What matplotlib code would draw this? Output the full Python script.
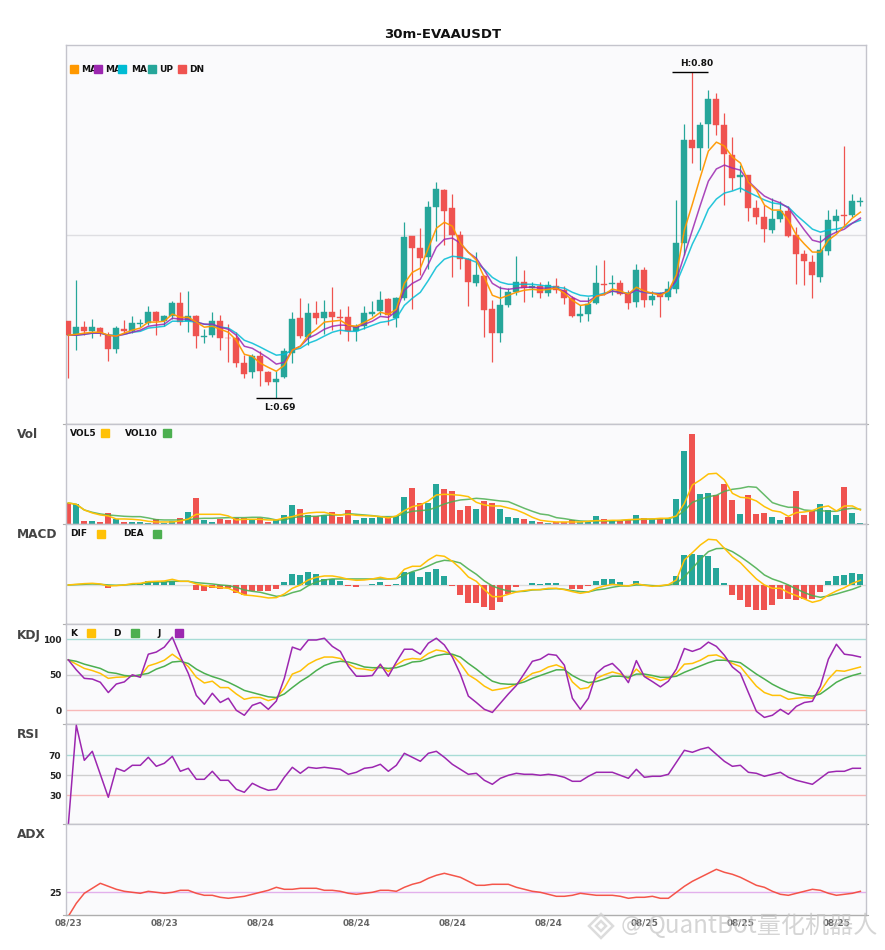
import numpy as np
import matplotlib
matplotlib.use('Agg')
import matplotlib.pyplot as plt
from matplotlib.patches import Polygon

UP = '#26a69a'
DN = '#ef5350'
W, H = 885, 950

# velas, en unidades de 0.0001
opens = [7159,7112,7139,7125,7136,7112,7065,7132,7125,7150,7152,7189,7159,7176,7220,7159,7176,7106,7112,7159,
         7103,7102,7018,6988,7041,6988,6954,6971,7052,7169,7105,7186,7169,7189,7172,7172,7125,7142,7182,7192,
         7233,7169,7236,7444,7404,7374,7542,7599,7538,7448,7367,7286,7310,7199,7118,7212,7256,7290,7272,7276,
         7253,7276,7263,7236,7175,7182,7219,7283,7283,7287,7253,7223,7330,7230,7250,7240,7267,7421,7767,7740,
         7821,7905,7818,7717,7644,7650,7539,7508,7465,7502,7529,7448,7384,7357,7307,7394,7495,7515,7515,7559]
highs = [7159,7297,7159,7166,7139,7122,7142,7162,7176,7166,7209,7193,7179,7226,7256,7260,7179,7132,7189,7179,
         7149,7122,7045,7048,7058,6991,6991,7068,7189,7236,7220,7226,7230,7273,7199,7209,7149,7209,7226,7259,
         7236,7240,7491,7444,7471,7562,7626,7602,7585,7461,7370,7390,7313,7229,7276,7270,7377,7330,7290,7290,
         7293,7303,7276,7243,7212,7239,7347,7364,7314,7297,7263,7351,7340,7260,7256,7293,7566,7821,7997,7828,
         7935,7925,7858,7777,7683,7650,7566,7549,7572,7562,7545,7475,7398,7381,7448,7532,7535,7747,7586,7576]
lows = [6969,7062,7112,7102,7109,7025,7052,7119,7119,7139,7146,7112,7142,7166,7146,7122,7068,7085,7105,7062,
        7021,7004,6968,6968,6941,6944,6900,6968,7018,7102,7078,7149,7115,7129,7115,7091,7091,7132,7175,7179,
        7145,7138,7229,7199,7313,7333,7427,7414,7306,7333,7209,7276,7105,7021,7088,7206,7246,7222,7239,7236,
        7243,7252,7216,7172,7155,7159,7216,7246,7246,7246,7199,7206,7206,7213,7172,7230,7253,7381,7690,7666,
        7740,7784,7549,7599,7592,7495,7485,7424,7455,7492,7441,7283,7280,7236,7290,7381,7458,7477,7508,7545]
closes = [7112,7139,7125,7139,7119,7065,7136,7125,7152,7152,7189,7159,7176,7220,7156,7176,7109,7109,7159,7102,
          7101,7018,6981,7041,6991,6954,6964,7058,7166,7109,7186,7169,7189,7172,7170,7125,7142,7186,7189,7229,
          7179,7236,7441,7404,7370,7542,7602,7528,7448,7367,7290,7313,7196,7118,7212,7256,7290,7270,7276,7253,
          7280,7265,7236,7175,7182,7216,7286,7280,7287,7250,7220,7330,7230,7243,7240,7267,7421,7767,7740,7818,
          7905,7818,7720,7640,7650,7539,7508,7468,7502,7529,7445,7384,7361,7314,7398,7498,7512,7512,7562,7562]

ma5 = [7112,7115,7119,7122,7122,7112,7109,7119,7129,7136,7156,7156,7159,7183,7172,7172,7156,7139,7142,7132,
       7122,7095,7048,7041,7018,7004,6991,7011,7062,7075,7112,7132,7156,7159,7162,7145,7142,7155,7169,7189,
       7182,7199,7286,7323,7337,7404,7471,7491,7478,7421,7390,7364,7306,7246,7236,7246,7256,7263,7266,7263,
       7266,7270,7253,7229,7212,7216,7243,7249,7267,7260,7250,7273,7260,7253,7246,7260,7314,7465,7552,7643,
       7730,7760,7747,7710,7690,7626,7599,7549,7532,7532,7498,7448,7418,7391,7391,7431,7451,7478,7505,7525]
ma10 = [7112,7112,7115,7119,7119,7112,7109,7115,7122,7129,7142,7146,7149,7169,7166,7166,7156,7149,7149,7139,
        7132,7112,7075,7068,7052,7035,7015,7021,7062,7075,7102,7115,7132,7142,7146,7145,7138,7149,7159,7175,
        7172,7192,7263,7286,7300,7350,7407,7434,7438,7421,7390,7370,7330,7286,7270,7266,7270,7273,7273,7270,
        7270,7270,7259,7239,7226,7226,7243,7249,7260,7256,7250,7263,7256,7253,7250,7260,7297,7381,7465,7549,
        7629,7670,7683,7673,7666,7629,7603,7579,7566,7556,7539,7502,7465,7431,7424,7445,7458,7468,7488,7505]
ma20 = [7112,7112,7115,7119,7119,7112,7112,7115,7122,7125,7136,7139,7142,7159,7159,7159,7156,7149,7146,7139,
        7136,7119,7095,7085,7072,7058,7045,7048,7062,7068,7085,7095,7109,7122,7129,7125,7125,7135,7145,7155,
        7159,7169,7212,7236,7256,7296,7340,7367,7377,7374,7367,7357,7333,7306,7290,7283,7283,7283,7283,7280,
        7276,7273,7270,7256,7246,7243,7246,7253,7260,7256,7253,7260,7256,7253,7253,7256,7287,7351,7418,7472,
        7535,7569,7589,7596,7606,7592,7579,7566,7556,7552,7542,7515,7492,7468,7458,7465,7468,7475,7488,7498]

volume = [64,61,10,10,7,34,16,7,7,7,4,16,4,10,19,37,79,13,7,16,
          13,19,19,16,19,7,16,28,58,46,28,25,28,37,22,43,13,19,19,25,
          19,25,82,109,64,64,121,106,100,43,55,46,70,64,46,22,19,16,10,7,
          4,7,7,13,7,7,25,16,10,10,13,28,19,16,16,16,76,220,271,91,
          94,88,121,73,31,88,31,34,22,13,22,100,28,43,61,43,28,112,34,4]
vol5 = [64,60,43,34,28,25,16,16,15,13,9,7,7,7,10,16,30,30,30,30,
        25,13,15,15,15,13,13,19,23,30,34,36,36,30,28,30,27,26,25,23,
        19,25,41,53,58,70,88,90,89,87,83,66,58,55,55,49,43,33,21,12,
        9,7,7,7,7,9,11,11,12,12,14,15,16,16,18,18,25,63,118,133,
        151,153,133,93,81,79,70,53,41,37,24,35,37,41,51,55,40,55,55,43]
vol10 = [64,60,43,36,31,28,26,24,23,23,19,14,13,13,13,14,17,18,18,19,
         20,20,20,21,21,18,13,13,20,23,24,24,27,28,28,32,30,28,26,23,
         23,23,33,39,41,43,51,61,68,73,75,78,76,73,70,68,58,48,39,31,
         28,20,17,13,10,9,11,10,10,11,13,14,15,16,16,17,23,41,66,75,
         83,87,99,105,108,113,111,88,65,57,51,51,43,41,41,39,39,45,48,45]

macd_hist = [0,1,1,1,0,-8,0,0,2,2,11,11,8,11,0,0,-15,-18,-9,-12,
             -9,-24,-30,-18,-18,-18,-12,9,33,30,39,33,18,18,12,-2,-5,0,3,9,
             -2,3,39,39,24,39,48,27,-2,-30,-54,-54,-66,-75,-51,-27,-6,0,6,3,
             6,6,0,-12,-12,-3,12,18,18,9,0,12,0,0,0,0,27,90,93,90,
             87,51,6,-30,-45,-66,-75,-75,-60,-42,-42,-45,-42,-42,-21,12,27,30,36,33]
dif = [0,2,4,5,3,-3,-2,0,4,5,10,11,12,17,11,11,3,-2,-5,-8,
       -10,-20,-30,-32,-35,-39,-38,-27,-10,0,15,23,27,27,23,17,14,15,18,23,
       18,20,47,56,56,75,89,86,71,50,24,11,-14,-35,-35,-28,-21,-17,-14,-14,
       -10,-10,-14,-20,-25,-21,-10,-3,2,-1,-3,4,-1,-4,-2,1,15,75,97,120,
       137,135,110,85,67,42,18,0,-10,-10,-23,-32,-42,-52,-46,-30,-18,-8,5,14]
dea = [0,1,2,3,2,0,-1,0,2,3,7,9,9,11,11,11,7,5,3,0,
       -2,-7,-15,-19,-22,-28,-34,-32,-23,-17,-2,9,15,18,18,18,18,18,18,18,
       18,19,30,40,47,57,68,74,72,66,48,32,12,-3,-12,-18,-20,-19,-15,-14,
       -12,-11,-13,-17,-20,-21,-15,-12,-7,-3,-3,0,0,-2,-3,0,5,25,50,77,
       100,109,110,100,85,68,50,30,18,10,0,-12,-23,-32,-37,-33,-27,-20,-13,-4]

k_line = [71,65,59,56,52,45,46.5,47,49,48,62.5,66,70.5,79,71,61.5,46.5,38.5,41,32,
          32,23,15.5,18,18,13.6,17,31,51,55.5,65,71,75,75,73,65,59,58,56,63,
          54.5,64,71,73,72,80,85,83,78,66,50,43,34,28,30,32,37,44,52,55,
          61,64,59,40,30,32,45,50,54,51,45,58,48,46,42,45,52,65,66,70.5,
          77,78,73,66,61.5,47.5,34,25,21,21,15.5,17,18,17,27,44,56,55,58,61]
d_line = [71,69,65,62,59,53.5,52,49,48,50,52,58,62,68,69,66,58,52,47.5,44,
          39.5,34,28,25,22,19,18,23,32,40.5,47.5,56,63,67,69,68,65,61,60,60,
          59,60,63.5,68,69,73,77,79,79,75,66,58,49,41,37.6,36.7,36.7,40,45,49,
          53,57,57,49,43,39,40.5,44,48,48,46.5,51,51,49,46.5,46.5,48,53.5,58,62.5,
          67,70.5,70.5,69,67,59,51,44,36.7,31,26,23,21,20,23,31,39.5,45,49,52]
j_line = [71,57,45,44,39.5,25,37,40,50,46.5,79,82,89,103,76,52,21,8.5,24,11,
          17,0,-7,7,11,1.4,13,45,89,85,99,99,101.5,90,83,62,48,48,49,65,
          48,68,86,86,79,94.5,101.5,92,75,51,20,11,1.4,-3,10,23,35,52,69,72,
          79,77.5,63.5,17,1.4,17,52,61.5,66,55,39,70,47.5,40.5,33,41,58,87,83,87,
          96,90,77.5,61,52,25,-1.4,-10,-7,1.4,-5.6,5.6,11,12.7,34,72,93,79,77.5,75]

rsi = [0,100,65,74,51,28,57,54,60,60,68,59,62,69,54,57,46,46,54,45,
       45,36,33,42,38,35,36,48,58,52,58,57,58,57,56,51,53,57,58,61,
       54,60,72,68,64,72,74,68,61,56,51,52,45,41,47,50,52,51,51,50,
       51,50,48,44,44,49,53,53,53,50,47,56,48,49,49,51,63,75,73,76,
       78,71,64,59,60,53,52,49,51,53,48,45,43,41,47,53,54,54,57,57]
adx = [13,19.5,24.5,27,29.5,28,26.5,25.5,25,24.5,25.5,25,24.5,25,26,26,24.5,23.5,23.5,22.5,
       22,22.5,23,24,25,26,27.5,26.5,26.5,27,27,27,26,26,25.5,24.5,24,24.5,25,26,
       26,25.5,27.5,29,30,32,33.5,34.5,33.5,32.5,30.5,28.5,28.5,29,29,29,27.5,26.5,25.5,25,
       24,23,23,23.5,24.5,24,23.5,23.5,23.5,23,22,22.5,22.5,23,22,22,25,28,30.5,32.5,
       34.5,36.5,35,34,32.5,30.5,28.5,27.5,25.5,24,23.5,24.5,25.5,26.5,26,24.5,23.5,24,24.5,25.5]

tick_pos = [0, 12, 24, 36, 48, 60, 72, 84, 96]
tick_labels = ['08/23', '08/23', '08/24', '08/24', '08/24', '08/24', '08/25', '08/25', '08/25']

o, hi, lo, c = [np.array(a) / 10000 for a in (opens, highs, lows, closes)]
x = np.arange(len(o))
colores = [UP if c[i] >= o[i] else DN for i in x]
LW = 1.1

fig = plt.figure(figsize=(W / 100, H / 100), dpi=100)


def panel(top, bottom):
    ax = fig.add_axes([65.5 / W, 1 - bottom / H, 800.5 / W, (bottom - top) / H])
    ax.set_facecolor('#fafafc')
    ax.set_xlim(-0.35, 99.7)
    ax.set_xticks([])
    for s in ax.spines.values():
        s.set_color('#c4c4cc')
        s.set_linewidth(1)
    ax.spines['bottom'].set_color('#aeaeae')
    ax.tick_params(length=0, labelsize=6.5, pad=3, labelcolor='#222222')
    # marquitas en los extremos de cada panel
    ax.plot([-0.003, 0], [0, 0], transform=ax.transAxes, clip_on=False, color='#aeaeae', lw=0.8)
    ax.plot([1, 1.003], [0, 0], transform=ax.transAxes, clip_on=False, color='#aeaeae', lw=0.8)
    return ax


def legend(items, y):
    # cuadrados y textos en pixeles de la figura
    for txt, tx, sx, col in items:
        fig.text(tx / W, 1 - y / H, txt, fontsize=6.5, fontweight='bold', color='#111111', va='center', zorder=5)
        fig.patches.append(plt.Rectangle((sx / W, 1 - (y + 4) / H), 8 / W, 8 / H, color=col,
                                         transform=fig.transFigure, zorder=6))


def ref_lines(ax, vals, cols):
    for v, col in zip(vals, cols):
        ax.axhline(v, color=col, lw=1, zorder=1)
    ax.set_yticks(vals)
    for t in ax.get_yticklabels():
        t.set_fontweight('bold')


# Principal
ax = panel(45, 424.3)
ax.set_ylim(0.6813, 0.8086)
ax.axhline(0.7448, color='#dedee2', lw=1, zorder=1)
ax.set_yticks([])
ax.vlines(x, lo, hi, colors=colores, lw=0.9, zorder=2)
ax.bar(x, np.abs(c - o), bottom=np.minimum(o, c), width=0.75, color=colores, edgecolor=colores, lw=0.3, zorder=3)
ax.plot(x, np.array(ma5) / 10000, color='#ff9800', lw=LW, alpha=0.95, zorder=6)
ax.plot(x, np.array(ma10) / 10000, color='#9c27b0', lw=LW, alpha=0.85, zorder=5)
ax.plot(x, np.array(ma20) / 10000, color='#00bcd4', lw=LW, alpha=0.85, zorder=4)

i_hi = int(np.argmax(hi))
i_lo = int(np.argmin(lo))
ax.hlines(hi[i_hi], i_hi - 2.5, i_hi + 1.95, color='black', lw=1, zorder=7)
ax.annotate(f'H:{hi[i_hi]:.2f}', (i_hi, hi[i_hi]), xytext=(3, 2.5), textcoords='offset points',
            ha='center', va='bottom', fontsize=6.5, fontweight='bold', color='#111111')
ax.hlines(lo[i_lo], i_lo - 2.5, i_lo + 1.95, color='black', lw=1, zorder=7)
ax.annotate(f'L:{lo[i_lo]:.2f}', (i_lo, lo[i_lo]), xytext=(2.3, -3), textcoords='offset points',
            ha='center', va='top', fontsize=6.5, fontweight='bold', color='#111111')
legend([('MA', 81, 70, '#ff9800'), ('MA', 105, 94, '#9c27b0'), ('MA', 131, 118, '#00bcd4'),
        ('UP', 159, 148, UP), ('DN', 189, 178, DN)], 69)

# Volumen
ax = panel(424.3, 524.3)
ax.set_ylim(0, 300)
ax.set_yticks([])
ax.bar(x, volume, width=0.75, color=colores, zorder=2)
ax.plot(x, vol5, color='#ffc107', lw=LW, zorder=4)
ax.plot(x, vol10, color='#4caf50', lw=LW, alpha=0.85, zorder=3)
legend([('VOL5', 70, 101, '#ffc107'), ('VOL10', 125, 163, '#4caf50')], 433)

# MACD
ax = panel(524.3, 624.3)
ax.set_ylim(-118, 182)
ax.set_yticks([])
ax.axhline(0, color='#dcdcdc', lw=1, zorder=1)
ax.bar(x, macd_hist, width=0.75, color=[UP if v >= 0 else DN for v in macd_hist], zorder=2)
ax.plot(x, dif, color='#ffc107', lw=LW, zorder=4)
ax.plot(x, dea, color='#4caf50', lw=LW, alpha=0.9, zorder=3)
legend([('DIF', 70, 97, '#ffc107'), ('DEA', 123, 153, '#4caf50')], 534)

# KDJ
ax = panel(624.3, 724.3)
ax.set_ylim(-19.7, 121.1)
ref_lines(ax, [0, 50, 100], ['#f8b8b8', '#cfcfcf', '#a8dcd6'])
ax.plot(x, k_line, color='#ffc107', lw=LW, zorder=3)
ax.plot(x, d_line, color='#4caf50', lw=LW, zorder=3)
ax.plot(x, j_line, color='#9c27b0', lw=LW, zorder=4)
legend([('K', 70, 87, '#ffc107'), ('D', 113, 131, '#4caf50'), ('J', 157, 175, '#9c27b0')], 633)

# RSI
ax = panel(724.3, 824.3)
ax.set_ylim(1, 101)
ref_lines(ax, [30, 50, 70], ['#f8b8b8', '#cfcfcf', '#a8dcd6'])
ax.plot(x, rsi, color='#9c27b0', lw=LW, zorder=3)

# ADX
ax = panel(824.3, 915.3)
ax.set_ylim(13.5, 59)
ref_lines(ax, [25], ['#e2b0ec'])
ax.plot(x, adx, color='#f44336', lw=LW, alpha=0.9, zorder=3)
ax.set_xticks(tick_pos)
ax.set_xticklabels(tick_labels, fontsize=6.4, fontweight='bold', color='#666666')
ax.tick_params(axis='x', length=0, pad=2)

# Titulos
fig.text(443 / W, 1 - 34 / H, '30m-EVAAUSDT', ha='center', va='center', fontsize=9.5, fontweight='bold', color='#111111')
for nombre, y in [('Vol', 434), ('MACD', 535), ('KDJ', 635), ('RSI', 735), ('ADX', 835)]:
    fig.text(17 / W, 1 - y / H, nombre, va='center', fontsize=8.7, fontweight='bold', color='#444444')

# Marca de agua
fig.text(648 / W, 1 - 926 / H, 'QuantBot量化机器人', fontsize=17.4, va='center',
         family=['Noto Sans CJK SC', 'DejaVu Sans'], color='#c4c4c4', alpha=0.7, zorder=8)
fig.text(631 / W, 1 - 925 / H, '@', fontsize=15, va='center', ha='center', color='#c4c4c4', alpha=0.7, zorder=8)
for cx, cy, r in [(601, 926, 12), (601, 926, 5)]:
    pts = [((cx - r) / W, 1 - cy / H), (cx / W, 1 - (cy - r) / H), ((cx + r) / W, 1 - cy / H), (cx / W, 1 - (cy + r) / H)]
    fig.patches.append(Polygon(pts, closed=True, fill=False, edgecolor='#d4d4d4', lw=1.8, alpha=0.8,
                               transform=fig.transFigure, zorder=8))

plt.savefig('out.png', dpi=100)
